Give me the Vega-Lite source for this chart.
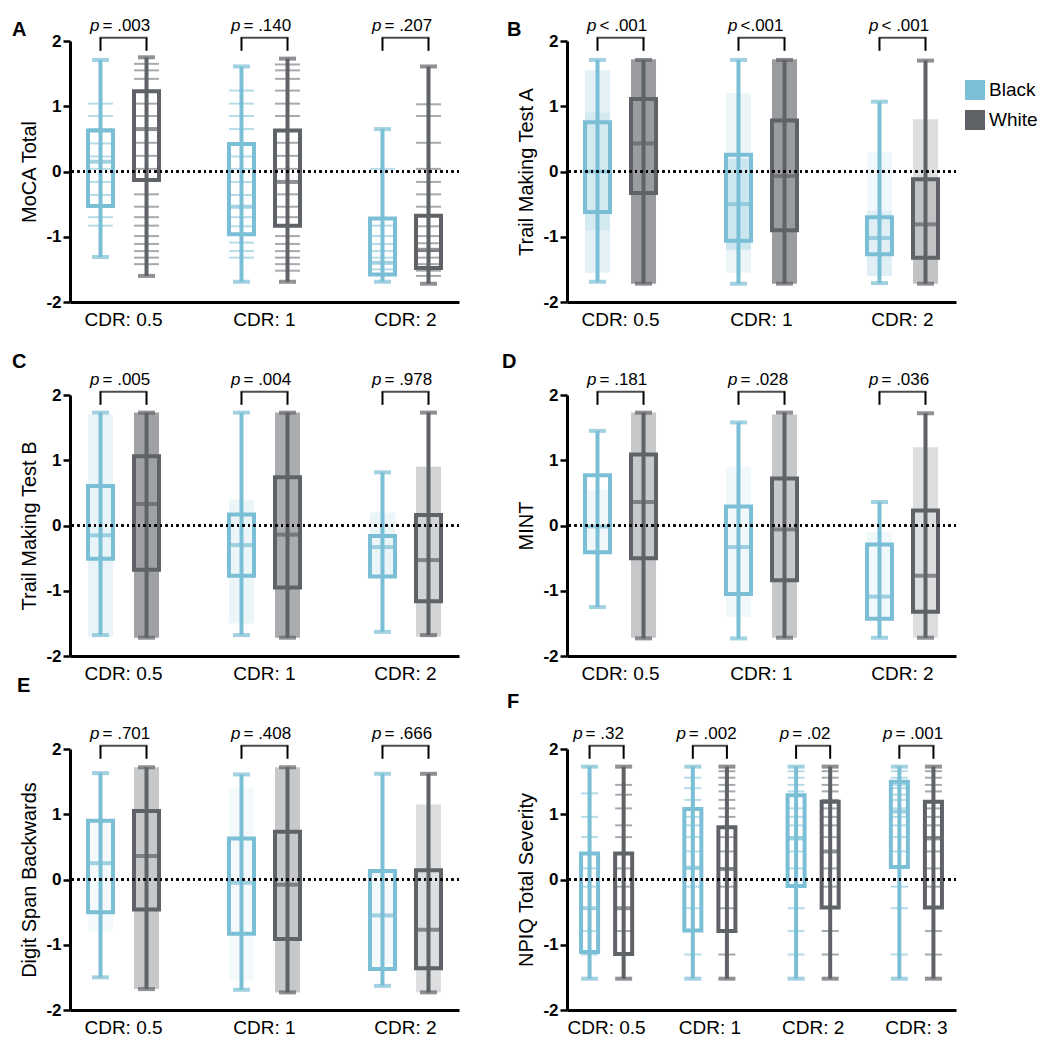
{
"$schema": "https://vega.github.io/schema/vega-lite/v6.json",
"background": "white",
"padding": {"left": 12, "top": 17, "right": 2, "bottom": 2},
"columns": 2,
"spacing": {"row": 93, "column": 108},
"bounds": "flush",
"resolve": {"scale": {"xOffset": "independent"}},
"datasets": {
"box": [
{"panel":"A","cdr":"CDR: 0.5","race":"Black","min":-1.31,"q1":-0.53,"median":0.15,"q3":0.63,"max":1.71},
{"panel":"A","cdr":"CDR: 0.5","race":"White","min":-1.60,"q1":-0.13,"median":0.65,"q3":1.23,"max":1.75},
{"panel":"A","cdr":"CDR: 1","race":"Black","min":-1.69,"q1":-0.96,"median":-0.54,"q3":0.42,"max":1.61},
{"panel":"A","cdr":"CDR: 1","race":"White","min":-1.69,"q1":-0.83,"median":-0.16,"q3":0.63,"max":1.73},
{"panel":"A","cdr":"CDR: 2","race":"Black","min":-1.69,"q1":-1.58,"median":-1.40,"q3":-0.72,"max":0.65},
{"panel":"A","cdr":"CDR: 2","race":"White","min":-1.72,"q1":-1.48,"median":-1.20,"q3":-0.68,"max":1.61},
{"panel":"B","cdr":"CDR: 0.5","race":"Black","min":-1.69,"q1":-0.62,"median":0.0,"q3":0.755,"max":1.71},
{"panel":"B","cdr":"CDR: 0.5","race":"White","min":-1.72,"q1":-0.33,"median":0.43,"q3":1.11,"max":1.71},
{"panel":"B","cdr":"CDR: 1","race":"Black","min":-1.72,"q1":-1.06,"median":-0.50,"q3":0.255,"max":1.71},
{"panel":"B","cdr":"CDR: 1","race":"White","min":-1.72,"q1":-0.90,"median":-0.07,"q3":0.78,"max":1.71},
{"panel":"B","cdr":"CDR: 2","race":"Black","min":-1.71,"q1":-1.27,"median":-1.02,"q3":-0.70,"max":1.07},
{"panel":"B","cdr":"CDR: 2","race":"White","min":-1.72,"q1":-1.32,"median":-0.81,"q3":-0.12,"max":1.70},
{"panel":"C","cdr":"CDR: 0.5","race":"Black","min":-1.68,"q1":-0.51,"median":-0.15,"q3":0.605,"max":1.73},
{"panel":"C","cdr":"CDR: 0.5","race":"White","min":-1.72,"q1":-0.68,"median":0.33,"q3":1.06,"max":1.73},
{"panel":"C","cdr":"CDR: 1","race":"Black","min":-1.68,"q1":-0.77,"median":-0.30,"q3":0.17,"max":1.73},
{"panel":"C","cdr":"CDR: 1","race":"White","min":-1.72,"q1":-0.95,"median":-0.14,"q3":0.74,"max":1.73},
{"panel":"C","cdr":"CDR: 2","race":"Black","min":-1.63,"q1":-0.78,"median":-0.33,"q3":-0.16,"max":0.815},
{"panel":"C","cdr":"CDR: 2","race":"White","min":-1.68,"q1":-1.16,"median":-0.53,"q3":0.16,"max":1.73},
{"panel":"D","cdr":"CDR: 0.5","race":"Black","min":-1.25,"q1":-0.41,"median":-0.015,"q3":0.77,"max":1.45},
{"panel":"D","cdr":"CDR: 0.5","race":"White","min":-1.73,"q1":-0.50,"median":0.36,"q3":1.09,"max":1.73},
{"panel":"D","cdr":"CDR: 1","race":"Black","min":-1.73,"q1":-1.05,"median":-0.33,"q3":0.29,"max":1.58},
{"panel":"D","cdr":"CDR: 1","race":"White","min":-1.72,"q1":-0.84,"median":-0.06,"q3":0.72,"max":1.73},
{"panel":"D","cdr":"CDR: 2","race":"Black","min":-1.72,"q1":-1.43,"median":-1.09,"q3":-0.29,"max":0.36},
{"panel":"D","cdr":"CDR: 2","race":"White","min":-1.72,"q1":-1.32,"median":-0.77,"q3":0.23,"max":1.72},
{"panel":"E","cdr":"CDR: 0.5","race":"Black","min":-1.50,"q1":-0.50,"median":0.25,"q3":0.90,"max":1.63},
{"panel":"E","cdr":"CDR: 0.5","race":"White","min":-1.68,"q1":-0.46,"median":0.36,"q3":1.05,"max":1.72},
{"panel":"E","cdr":"CDR: 1","race":"Black","min":-1.69,"q1":-0.83,"median":-0.05,"q3":0.63,"max":1.61},
{"panel":"E","cdr":"CDR: 1","race":"White","min":-1.73,"q1":-0.91,"median":-0.08,"q3":0.73,"max":1.72},
{"panel":"E","cdr":"CDR: 2","race":"Black","min":-1.63,"q1":-1.37,"median":-0.55,"q3":0.13,"max":1.62},
{"panel":"E","cdr":"CDR: 2","race":"White","min":-1.73,"q1":-1.36,"median":-0.77,"q3":0.14,"max":1.62},
{"panel":"F","cdr":"CDR: 0.5","race":"Black","min":-1.52,"q1":-1.11,"median":-0.44,"q3":0.40,"max":1.73},
{"panel":"F","cdr":"CDR: 0.5","race":"White","min":-1.52,"q1":-1.14,"median":-0.44,"q3":0.40,"max":1.73},
{"panel":"F","cdr":"CDR: 1","race":"Black","min":-1.52,"q1":-0.78,"median":0.18,"q3":1.08,"max":1.73},
{"panel":"F","cdr":"CDR: 1","race":"White","min":-1.52,"q1":-0.79,"median":0.16,"q3":0.80,"max":1.73},
{"panel":"F","cdr":"CDR: 2","race":"Black","min":-1.52,"q1":-0.10,"median":0.63,"q3":1.29,"max":1.73},
{"panel":"F","cdr":"CDR: 2","race":"White","min":-1.52,"q1":-0.43,"median":0.43,"q3":1.19,"max":1.73},
{"panel":"F","cdr":"CDR: 3","race":"Black","min":-1.52,"q1":0.19,"median":1.04,"q3":1.50,"max":1.73},
{"panel":"F","cdr":"CDR: 3","race":"White","min":-1.52,"q1":-0.43,"median":0.63,"q3":1.19,"max":1.73}
],
"pv": [
{"panel":"A","cdr":"CDR: 0.5","ptext":"\u00a0= .003"},
{"panel":"A","cdr":"CDR: 1","ptext":"\u00a0= .140"},
{"panel":"A","cdr":"CDR: 2","ptext":"\u00a0= .207"},
{"panel":"B","cdr":"CDR: 0.5","ptext":"\u00a0< .001"},
{"panel":"B","cdr":"CDR: 1","ptext":"\u00a0<.001"},
{"panel":"B","cdr":"CDR: 2","ptext":"\u00a0< .001"},
{"panel":"C","cdr":"CDR: 0.5","ptext":"\u00a0= .005"},
{"panel":"C","cdr":"CDR: 1","ptext":"\u00a0= .004"},
{"panel":"C","cdr":"CDR: 2","ptext":"\u00a0= .978"},
{"panel":"D","cdr":"CDR: 0.5","ptext":"\u00a0= .181"},
{"panel":"D","cdr":"CDR: 1","ptext":"\u00a0= .028"},
{"panel":"D","cdr":"CDR: 2","ptext":"\u00a0= .036"},
{"panel":"E","cdr":"CDR: 0.5","ptext":"\u00a0= .701"},
{"panel":"E","cdr":"CDR: 1","ptext":"\u00a0= .408"},
{"panel":"E","cdr":"CDR: 2","ptext":"\u00a0= .666"},
{"panel":"F","cdr":"CDR: 0.5","ptext":"\u00a0= .32"},
{"panel":"F","cdr":"CDR: 1","ptext":"\u00a0= .002"},
{"panel":"F","cdr":"CDR: 2","ptext":"\u00a0= .02"},
{"panel":"F","cdr":"CDR: 3","ptext":"\u00a0= .001"}
],
"cloud": [
{"panel":"B","cdr":"CDR: 0.5","race":"Black","lo":-1.55,"hi":1.55,"dens":0.3},
{"panel":"B","cdr":"CDR: 0.5","race":"Black","lo":-0.9,"hi":0.9,"dens":0.2},
{"panel":"B","cdr":"CDR: 0.5","race":"White","lo":-1.72,"hi":1.72,"dens":0.9},
{"panel":"B","cdr":"CDR: 1","race":"Black","lo":-1.55,"hi":1.2,"dens":0.2},
{"panel":"B","cdr":"CDR: 1","race":"Black","lo":-1.2,"hi":0.2,"dens":0.4},
{"panel":"B","cdr":"CDR: 1","race":"White","lo":-1.72,"hi":1.72,"dens":0.9},
{"panel":"B","cdr":"CDR: 2","race":"Black","lo":-1.6,"hi":-0.6,"dens":0.35},
{"panel":"B","cdr":"CDR: 2","race":"Black","lo":-0.6,"hi":0.3,"dens":0.15},
{"panel":"B","cdr":"CDR: 2","race":"White","lo":-1.72,"hi":-0.1,"dens":0.55},
{"panel":"B","cdr":"CDR: 2","race":"White","lo":-0.1,"hi":0.8,"dens":0.3},
{"panel":"C","cdr":"CDR: 0.5","race":"Black","lo":-1.7,"hi":1.7,"dens":0.25},
{"panel":"C","cdr":"CDR: 0.5","race":"White","lo":-1.72,"hi":1.73,"dens":0.85},
{"panel":"C","cdr":"CDR: 1","race":"Black","lo":-1.5,"hi":0.4,"dens":0.2},
{"panel":"C","cdr":"CDR: 1","race":"White","lo":-1.72,"hi":1.73,"dens":0.75},
{"panel":"C","cdr":"CDR: 2","race":"Black","lo":-0.8,"hi":0.2,"dens":0.2},
{"panel":"C","cdr":"CDR: 2","race":"White","lo":-1.7,"hi":0.9,"dens":0.4},
{"panel":"D","cdr":"CDR: 0.5","race":"Black","lo":-0.45,"hi":0.55,"dens":0.15},
{"panel":"D","cdr":"CDR: 0.5","race":"White","lo":-1.72,"hi":1.73,"dens":0.5},
{"panel":"D","cdr":"CDR: 1","race":"Black","lo":-1.4,"hi":0.9,"dens":0.15},
{"panel":"D","cdr":"CDR: 1","race":"White","lo":-1.72,"hi":1.7,"dens":0.5},
{"panel":"D","cdr":"CDR: 2","race":"Black","lo":-1.45,"hi":-0.1,"dens":0.15},
{"panel":"D","cdr":"CDR: 2","race":"White","lo":-1.72,"hi":1.2,"dens":0.3},
{"panel":"E","cdr":"CDR: 0.5","race":"Black","lo":-0.8,"hi":0.9,"dens":0.12},
{"panel":"E","cdr":"CDR: 0.5","race":"White","lo":-1.68,"hi":1.72,"dens":0.5},
{"panel":"E","cdr":"CDR: 1","race":"Black","lo":-1.55,"hi":1.4,"dens":0.12},
{"panel":"E","cdr":"CDR: 1","race":"White","lo":-1.73,"hi":1.72,"dens":0.5},
{"panel":"E","cdr":"CDR: 2","race":"Black","lo":-1.3,"hi":0.1,"dens":0.12},
{"panel":"E","cdr":"CDR: 2","race":"White","lo":-1.73,"hi":1.15,"dens":0.3}
],
"lv": [
{"panel":"A","cdr":"CDR: 0.5","race":"Black","v":1.04},{"panel":"A","cdr":"CDR: 0.5","race":"Black","v":0.85},{"panel":"A","cdr":"CDR: 0.5","race":"Black","v":0.65},{"panel":"A","cdr":"CDR: 0.5","race":"Black","v":0.43},{"panel":"A","cdr":"CDR: 0.5","race":"Black","v":0.23},{"panel":"A","cdr":"CDR: 0.5","race":"Black","v":0.04},{"panel":"A","cdr":"CDR: 0.5","race":"Black","v":-0.16},{"panel":"A","cdr":"CDR: 0.5","race":"Black","v":-0.36},{"panel":"A","cdr":"CDR: 0.5","race":"Black","v":-0.70},{"panel":"A","cdr":"CDR: 0.5","race":"Black","v":-0.83},
{"panel":"A","cdr":"CDR: 0.5","race":"White","v":1.65},{"panel":"A","cdr":"CDR: 0.5","race":"White","v":1.55},{"panel":"A","cdr":"CDR: 0.5","race":"White","v":1.42},{"panel":"A","cdr":"CDR: 0.5","race":"White","v":1.04},{"panel":"A","cdr":"CDR: 0.5","race":"White","v":0.85},{"panel":"A","cdr":"CDR: 0.5","race":"White","v":0.44},{"panel":"A","cdr":"CDR: 0.5","race":"White","v":0.24},{"panel":"A","cdr":"CDR: 0.5","race":"White","v":0.04},{"panel":"A","cdr":"CDR: 0.5","race":"White","v":-0.35},{"panel":"A","cdr":"CDR: 0.5","race":"White","v":-0.54},{"panel":"A","cdr":"CDR: 0.5","race":"White","v":-0.70},{"panel":"A","cdr":"CDR: 0.5","race":"White","v":-0.83},{"panel":"A","cdr":"CDR: 0.5","race":"White","v":-0.99},{"panel":"A","cdr":"CDR: 0.5","race":"White","v":-1.11},{"panel":"A","cdr":"CDR: 0.5","race":"White","v":-1.22},{"panel":"A","cdr":"CDR: 0.5","race":"White","v":-1.32},{"panel":"A","cdr":"CDR: 0.5","race":"White","v":-1.42},
{"panel":"A","cdr":"CDR: 1","race":"Black","v":1.24},{"panel":"A","cdr":"CDR: 1","race":"Black","v":1.04},{"panel":"A","cdr":"CDR: 1","race":"Black","v":0.85},{"panel":"A","cdr":"CDR: 1","race":"Black","v":0.65},{"panel":"A","cdr":"CDR: 1","race":"Black","v":0.23},{"panel":"A","cdr":"CDR: 1","race":"Black","v":0.04},{"panel":"A","cdr":"CDR: 1","race":"Black","v":-0.16},{"panel":"A","cdr":"CDR: 1","race":"Black","v":-0.36},{"panel":"A","cdr":"CDR: 1","race":"Black","v":-0.70},{"panel":"A","cdr":"CDR: 1","race":"Black","v":-0.84},{"panel":"A","cdr":"CDR: 1","race":"Black","v":-1.09},{"panel":"A","cdr":"CDR: 1","race":"Black","v":-1.22},{"panel":"A","cdr":"CDR: 1","race":"Black","v":-1.32},
{"panel":"A","cdr":"CDR: 1","race":"White","v":1.64},{"panel":"A","cdr":"CDR: 1","race":"White","v":1.55},{"panel":"A","cdr":"CDR: 1","race":"White","v":1.42},{"panel":"A","cdr":"CDR: 1","race":"White","v":1.24},{"panel":"A","cdr":"CDR: 1","race":"White","v":1.04},{"panel":"A","cdr":"CDR: 1","race":"White","v":0.85},{"panel":"A","cdr":"CDR: 1","race":"White","v":0.44},{"panel":"A","cdr":"CDR: 1","race":"White","v":0.24},{"panel":"A","cdr":"CDR: 1","race":"White","v":0.04},{"panel":"A","cdr":"CDR: 1","race":"White","v":-0.35},{"panel":"A","cdr":"CDR: 1","race":"White","v":-0.54},{"panel":"A","cdr":"CDR: 1","race":"White","v":-0.70},{"panel":"A","cdr":"CDR: 1","race":"White","v":-0.99},{"panel":"A","cdr":"CDR: 1","race":"White","v":-1.11},{"panel":"A","cdr":"CDR: 1","race":"White","v":-1.22},{"panel":"A","cdr":"CDR: 1","race":"White","v":-1.32},{"panel":"A","cdr":"CDR: 1","race":"White","v":-1.42},{"panel":"A","cdr":"CDR: 1","race":"White","v":-1.52},
{"panel":"A","cdr":"CDR: 2","race":"Black","v":0.04},{"panel":"A","cdr":"CDR: 2","race":"Black","v":-0.83},{"panel":"A","cdr":"CDR: 2","race":"Black","v":-0.99},{"panel":"A","cdr":"CDR: 2","race":"Black","v":-1.11},{"panel":"A","cdr":"CDR: 2","race":"Black","v":-1.22},{"panel":"A","cdr":"CDR: 2","race":"Black","v":-1.32},{"panel":"A","cdr":"CDR: 2","race":"Black","v":-1.50},
{"panel":"A","cdr":"CDR: 2","race":"White","v":1.03},{"panel":"A","cdr":"CDR: 2","race":"White","v":0.85},{"panel":"A","cdr":"CDR: 2","race":"White","v":0.44},{"panel":"A","cdr":"CDR: 2","race":"White","v":0.04},{"panel":"A","cdr":"CDR: 2","race":"White","v":-0.16},{"panel":"A","cdr":"CDR: 2","race":"White","v":-0.35},{"panel":"A","cdr":"CDR: 2","race":"White","v":-0.54},{"panel":"A","cdr":"CDR: 2","race":"White","v":-0.84},{"panel":"A","cdr":"CDR: 2","race":"White","v":-0.99},{"panel":"A","cdr":"CDR: 2","race":"White","v":-1.10},{"panel":"A","cdr":"CDR: 2","race":"White","v":-1.22},{"panel":"A","cdr":"CDR: 2","race":"White","v":-1.32},{"panel":"A","cdr":"CDR: 2","race":"White","v":-1.42},{"panel":"A","cdr":"CDR: 2","race":"White","v":-1.52},{"panel":"A","cdr":"CDR: 2","race":"White","v":-1.60},
{"panel":"F","cdr":"CDR: 0.5","race":"Black","v":1.32},{"panel":"F","cdr":"CDR: 0.5","race":"Black","v":0.96},{"panel":"F","cdr":"CDR: 0.5","race":"Black","v":0.65},{"panel":"F","cdr":"CDR: 0.5","race":"Black","v":0.17},{"panel":"F","cdr":"CDR: 0.5","race":"Black","v":-0.11},{"panel":"F","cdr":"CDR: 0.5","race":"Black","v":-0.79},{"panel":"F","cdr":"CDR: 0.5","race":"Black","v":-1.15},
{"panel":"F","cdr":"CDR: 0.5","race":"White","v":1.45},{"panel":"F","cdr":"CDR: 0.5","race":"White","v":1.30},{"panel":"F","cdr":"CDR: 0.5","race":"White","v":1.09},{"panel":"F","cdr":"CDR: 0.5","race":"White","v":0.83},{"panel":"F","cdr":"CDR: 0.5","race":"White","v":0.65},{"panel":"F","cdr":"CDR: 0.5","race":"White","v":0.17},{"panel":"F","cdr":"CDR: 0.5","race":"White","v":-0.11},{"panel":"F","cdr":"CDR: 0.5","race":"White","v":-0.79},{"panel":"F","cdr":"CDR: 0.5","race":"White","v":-1.15},
{"panel":"F","cdr":"CDR: 1","race":"Black","v":1.56},{"panel":"F","cdr":"CDR: 1","race":"Black","v":1.40},{"panel":"F","cdr":"CDR: 1","race":"Black","v":1.22},{"panel":"F","cdr":"CDR: 1","race":"Black","v":0.96},{"panel":"F","cdr":"CDR: 1","race":"Black","v":0.83},{"panel":"F","cdr":"CDR: 1","race":"Black","v":0.65},{"panel":"F","cdr":"CDR: 1","race":"Black","v":0.43},{"panel":"F","cdr":"CDR: 1","race":"Black","v":0.17},{"panel":"F","cdr":"CDR: 1","race":"Black","v":-0.11},{"panel":"F","cdr":"CDR: 1","race":"Black","v":-0.44},{"panel":"F","cdr":"CDR: 1","race":"Black","v":-1.15},
{"panel":"F","cdr":"CDR: 1","race":"White","v":1.66},{"panel":"F","cdr":"CDR: 1","race":"White","v":1.56},{"panel":"F","cdr":"CDR: 1","race":"White","v":1.45},{"panel":"F","cdr":"CDR: 1","race":"White","v":1.35},{"panel":"F","cdr":"CDR: 1","race":"White","v":1.22},{"panel":"F","cdr":"CDR: 1","race":"White","v":1.09},{"panel":"F","cdr":"CDR: 1","race":"White","v":0.96},{"panel":"F","cdr":"CDR: 1","race":"White","v":0.65},{"panel":"F","cdr":"CDR: 1","race":"White","v":0.43},{"panel":"F","cdr":"CDR: 1","race":"White","v":0.17},{"panel":"F","cdr":"CDR: 1","race":"White","v":-0.11},{"panel":"F","cdr":"CDR: 1","race":"White","v":-0.44},{"panel":"F","cdr":"CDR: 1","race":"White","v":-1.15},
{"panel":"F","cdr":"CDR: 2","race":"Black","v":1.66},{"panel":"F","cdr":"CDR: 2","race":"Black","v":1.56},{"panel":"F","cdr":"CDR: 2","race":"Black","v":1.45},{"panel":"F","cdr":"CDR: 2","race":"Black","v":1.35},{"panel":"F","cdr":"CDR: 2","race":"Black","v":1.09},{"panel":"F","cdr":"CDR: 2","race":"Black","v":0.96},{"panel":"F","cdr":"CDR: 2","race":"Black","v":0.83},{"panel":"F","cdr":"CDR: 2","race":"Black","v":0.65},{"panel":"F","cdr":"CDR: 2","race":"Black","v":0.43},{"panel":"F","cdr":"CDR: 2","race":"Black","v":0.17},{"panel":"F","cdr":"CDR: 2","race":"Black","v":-0.44},{"panel":"F","cdr":"CDR: 2","race":"Black","v":-0.79},{"panel":"F","cdr":"CDR: 2","race":"Black","v":-1.15},
{"panel":"F","cdr":"CDR: 2","race":"White","v":1.66},{"panel":"F","cdr":"CDR: 2","race":"White","v":1.56},{"panel":"F","cdr":"CDR: 2","race":"White","v":1.45},{"panel":"F","cdr":"CDR: 2","race":"White","v":1.35},{"panel":"F","cdr":"CDR: 2","race":"White","v":1.22},{"panel":"F","cdr":"CDR: 2","race":"White","v":1.09},{"panel":"F","cdr":"CDR: 2","race":"White","v":0.96},{"panel":"F","cdr":"CDR: 2","race":"White","v":0.83},{"panel":"F","cdr":"CDR: 2","race":"White","v":0.65},{"panel":"F","cdr":"CDR: 2","race":"White","v":0.17},{"panel":"F","cdr":"CDR: 2","race":"White","v":-0.11},{"panel":"F","cdr":"CDR: 2","race":"White","v":-0.79},{"panel":"F","cdr":"CDR: 2","race":"White","v":-1.15},
{"panel":"F","cdr":"CDR: 3","race":"Black","v":1.66},{"panel":"F","cdr":"CDR: 3","race":"Black","v":1.56},{"panel":"F","cdr":"CDR: 3","race":"Black","v":1.45},{"panel":"F","cdr":"CDR: 3","race":"Black","v":1.40},{"panel":"F","cdr":"CDR: 3","race":"Black","v":1.30},{"panel":"F","cdr":"CDR: 3","race":"Black","v":1.22},{"panel":"F","cdr":"CDR: 3","race":"Black","v":1.09},{"panel":"F","cdr":"CDR: 3","race":"Black","v":0.96},{"panel":"F","cdr":"CDR: 3","race":"Black","v":0.83},{"panel":"F","cdr":"CDR: 3","race":"Black","v":0.65},{"panel":"F","cdr":"CDR: 3","race":"Black","v":0.43},{"panel":"F","cdr":"CDR: 3","race":"Black","v":-0.11},{"panel":"F","cdr":"CDR: 3","race":"Black","v":-0.44},{"panel":"F","cdr":"CDR: 3","race":"Black","v":-1.15},
{"panel":"F","cdr":"CDR: 3","race":"White","v":1.66},{"panel":"F","cdr":"CDR: 3","race":"White","v":1.56},{"panel":"F","cdr":"CDR: 3","race":"White","v":1.45},{"panel":"F","cdr":"CDR: 3","race":"White","v":1.35},{"panel":"F","cdr":"CDR: 3","race":"White","v":1.09},{"panel":"F","cdr":"CDR: 3","race":"White","v":0.96},{"panel":"F","cdr":"CDR: 3","race":"White","v":0.83},{"panel":"F","cdr":"CDR: 3","race":"White","v":0.65},{"panel":"F","cdr":"CDR: 3","race":"White","v":0.43},{"panel":"F","cdr":"CDR: 3","race":"White","v":0.17},{"panel":"F","cdr":"CDR: 3","race":"White","v":-0.11},{"panel":"F","cdr":"CDR: 3","race":"White","v":-0.79},{"panel":"F","cdr":"CDR: 3","race":"White","v":-1.15}
]
},
"concat": [
{"title": {"text": "A", "dx": -58, "offset": -23}, "width": 389, "height": 261,
 "data": {"name": "box"}, "transform": [{"filter": "datum.panel == 'A'"}],
 "layer": [
  {"data": {"name": "lv"}, "transform": [{"filter": "datum.panel == 'A'"}], "mark": {"type": "tick", "size": 25, "thickness": 2, "opacity": 0.55}, "encoding": {"x": {"field": "cdr", "type": "nominal", "sort": ["CDR: 0.5","CDR: 1","CDR: 2"], "scale": {"paddingInner": 0.241, "paddingOuter": 0}, "title": null}, "xOffset": {"field": "race", "type": "nominal", "sort": ["Black","White"], "scale": {"paddingInner": 0.4565, "paddingOuter": 0.391}}, "y": {"field": "v", "type": "quantitative", "scale": {"domain": [-2, 2], "nice": false}, "axis": {"values": [-2,-1,0,1,2], "labelExpr": "'' + datum.value"}, "title": "MoCA Total"}, "color": {"field": "race", "type": "nominal", "scale": {"domain": ["Black","White"], "range": ["#7bbfd6","#5f6267"]}, "legend": {"orient": "right", "title": null, "offset": -31, "padding": 39, "symbolType": "square", "symbolSize": 400, "symbolOpacity": 1, "labelFontSize": 19, "labelColor": "black", "rowPadding": 10, "labelOffset": 4, "encode": {"symbols": {"update": {"fill": {"scale": "color", "field": "value"}, "strokeWidth": {"value": 0}, "opacity": {"value": 1}, "fillOpacity": {"value": 1}}}}}}}},
  {"mark": {"type": "rule", "strokeWidth": 4}, "encoding": {"x": {"field": "cdr", "type": "nominal", "sort": ["CDR: 0.5","CDR: 1","CDR: 2"], "title": null}, "xOffset": {"field": "race", "type": "nominal", "sort": ["Black","White"]}, "y": {"field": "min", "type": "quantitative", "title": "MoCA Total"}, "y2": {"field": "max"}, "color": {"field": "race", "type": "nominal"}}},
  {"mark": {"type": "tick", "size": 17, "thickness": 4}, "encoding": {"x": {"field": "cdr", "type": "nominal", "sort": ["CDR: 0.5","CDR: 1","CDR: 2"], "title": null}, "xOffset": {"field": "race", "type": "nominal", "sort": ["Black","White"]}, "y": {"field": "min", "type": "quantitative", "title": "MoCA Total"}, "color": {"field": "race", "type": "nominal"}}},
  {"mark": {"type": "tick", "size": 17, "thickness": 4}, "encoding": {"x": {"field": "cdr", "type": "nominal", "sort": ["CDR: 0.5","CDR: 1","CDR: 2"], "title": null}, "xOffset": {"field": "race", "type": "nominal", "sort": ["Black","White"]}, "y": {"field": "max", "type": "quantitative", "title": "MoCA Total"}, "color": {"field": "race", "type": "nominal"}}},
  {"mark": {"type": "bar", "filled": false, "strokeWidth": 4}, "encoding": {"x": {"field": "cdr", "type": "nominal", "sort": ["CDR: 0.5","CDR: 1","CDR: 2"], "title": null}, "xOffset": {"field": "race", "type": "nominal", "sort": ["Black","White"]}, "y": {"field": "q1", "type": "quantitative", "title": "MoCA Total"}, "y2": {"field": "q3"}, "color": {"field": "race", "type": "nominal"}}},
  {"mark": {"type": "tick", "size": 25, "thickness": 4}, "encoding": {"x": {"field": "cdr", "type": "nominal", "sort": ["CDR: 0.5","CDR: 1","CDR: 2"], "title": null}, "xOffset": {"field": "race", "type": "nominal", "sort": ["Black","White"]}, "y": {"field": "median", "type": "quantitative", "title": "MoCA Total"}, "color": {"field": "race", "type": "nominal"}}},
  {"mark": {"type": "rule", "color": "black", "strokeWidth": 2, "strokeDash": [2, 3.5]}, "encoding": {"y": {"datum": 0, "title": "MoCA Total"}}},
  {"mark": {"type": "rule", "color": "black", "strokeWidth": 2}, "encoding": {"x": {"field": "cdr", "type": "nominal", "sort": ["CDR: 0.5","CDR: 1","CDR: 2"], "title": null}, "xOffset": {"field": "race", "type": "nominal", "sort": ["Black","White"]}, "y": {"datum": 1.85, "title": "MoCA Total"}, "y2": {"datum": 2.05}}},
  {"data": {"name": "pv"}, "transform": [{"filter": "datum.panel == 'A'"}], "mark": {"type": "tick", "size": 48, "thickness": 2, "color": "black"}, "encoding": {"x": {"field": "cdr", "type": "nominal", "sort": ["CDR: 0.5","CDR: 1","CDR: 2"], "title": null}, "y": {"datum": 2.05, "title": "MoCA Total"}}},
  {"data": {"name": "pv"}, "transform": [{"filter": "datum.panel == 'A'"}], "mark": {"type": "text", "text": "p", "fontStyle": "italic", "align": "right", "baseline": "alphabetic", "dx": -24, "fontSize": 17}, "encoding": {"x": {"field": "cdr", "type": "nominal", "sort": ["CDR: 0.5","CDR: 1","CDR: 2"], "title": null}, "y": {"datum": 2.15, "title": "MoCA Total"}}},
  {"data": {"name": "pv"}, "transform": [{"filter": "datum.panel == 'A'"}], "mark": {"type": "text", "align": "left", "baseline": "alphabetic", "dx": -21, "fontSize": 17}, "encoding": {"x": {"field": "cdr", "type": "nominal", "sort": ["CDR: 0.5","CDR: 1","CDR: 2"], "title": null}, "y": {"datum": 2.15, "title": "MoCA Total"}, "text": {"field": "ptext"}}}
 ]},
{"title": {"text": "B", "dx": -60, "offset": -23}, "width": 389, "height": 261,
 "data": {"name": "box"}, "transform": [{"filter": "datum.panel == 'B'"}],
 "layer": [
  {"data": {"name": "cloud"}, "transform": [{"filter": "datum.panel == 'B'"}], "mark": {"type": "bar"}, "encoding": {"x": {"field": "cdr", "type": "nominal", "sort": ["CDR: 0.5","CDR: 1","CDR: 2"], "scale": {"paddingInner": 0.241, "paddingOuter": 0}, "title": null}, "xOffset": {"field": "race", "type": "nominal", "sort": ["Black","White"], "scale": {"paddingInner": 0.4565, "paddingOuter": 0.391}}, "y": {"field": "lo", "type": "quantitative", "scale": {"domain": [-2, 2], "nice": false}, "axis": {"values": [-2,-1,0,1,2], "labelExpr": "'' + datum.value"}, "title": "Trail Making Test A"}, "y2": {"field": "hi"}, "color": {"field": "race", "type": "nominal"}, "opacity": {"field": "dens", "type": "quantitative", "scale": {"domain": [0, 1], "range": [0, 0.7]}, "legend": null}}},
  {"mark": {"type": "rule", "strokeWidth": 4}, "encoding": {"x": {"field": "cdr", "type": "nominal", "sort": ["CDR: 0.5","CDR: 1","CDR: 2"], "title": null}, "xOffset": {"field": "race", "type": "nominal", "sort": ["Black","White"]}, "y": {"field": "min", "type": "quantitative", "title": "Trail Making Test A"}, "y2": {"field": "max"}, "color": {"field": "race", "type": "nominal"}}},
  {"mark": {"type": "tick", "size": 17, "thickness": 4}, "encoding": {"x": {"field": "cdr", "type": "nominal", "sort": ["CDR: 0.5","CDR: 1","CDR: 2"], "title": null}, "xOffset": {"field": "race", "type": "nominal", "sort": ["Black","White"]}, "y": {"field": "min", "type": "quantitative", "title": "Trail Making Test A"}, "color": {"field": "race", "type": "nominal"}}},
  {"mark": {"type": "tick", "size": 17, "thickness": 4}, "encoding": {"x": {"field": "cdr", "type": "nominal", "sort": ["CDR: 0.5","CDR: 1","CDR: 2"], "title": null}, "xOffset": {"field": "race", "type": "nominal", "sort": ["Black","White"]}, "y": {"field": "max", "type": "quantitative", "title": "Trail Making Test A"}, "color": {"field": "race", "type": "nominal"}}},
  {"mark": {"type": "bar", "filled": false, "strokeWidth": 4}, "encoding": {"x": {"field": "cdr", "type": "nominal", "sort": ["CDR: 0.5","CDR: 1","CDR: 2"], "title": null}, "xOffset": {"field": "race", "type": "nominal", "sort": ["Black","White"]}, "y": {"field": "q1", "type": "quantitative", "title": "Trail Making Test A"}, "y2": {"field": "q3"}, "color": {"field": "race", "type": "nominal"}}},
  {"mark": {"type": "tick", "size": 25, "thickness": 4}, "encoding": {"x": {"field": "cdr", "type": "nominal", "sort": ["CDR: 0.5","CDR: 1","CDR: 2"], "title": null}, "xOffset": {"field": "race", "type": "nominal", "sort": ["Black","White"]}, "y": {"field": "median", "type": "quantitative", "title": "Trail Making Test A"}, "color": {"field": "race", "type": "nominal"}}},
  {"mark": {"type": "rule", "color": "black", "strokeWidth": 2, "strokeDash": [2, 3.5]}, "encoding": {"y": {"datum": 0, "title": "Trail Making Test A"}}},
  {"mark": {"type": "rule", "color": "black", "strokeWidth": 2}, "encoding": {"x": {"field": "cdr", "type": "nominal", "sort": ["CDR: 0.5","CDR: 1","CDR: 2"], "title": null}, "xOffset": {"field": "race", "type": "nominal", "sort": ["Black","White"]}, "y": {"datum": 1.85, "title": "Trail Making Test A"}, "y2": {"datum": 2.05}}},
  {"data": {"name": "pv"}, "transform": [{"filter": "datum.panel == 'B'"}], "mark": {"type": "tick", "size": 48, "thickness": 2, "color": "black"}, "encoding": {"x": {"field": "cdr", "type": "nominal", "sort": ["CDR: 0.5","CDR: 1","CDR: 2"], "title": null}, "y": {"datum": 2.05, "title": "Trail Making Test A"}}},
  {"data": {"name": "pv"}, "transform": [{"filter": "datum.panel == 'B'"}], "mark": {"type": "text", "text": "p", "fontStyle": "italic", "align": "right", "baseline": "alphabetic", "dx": -24, "fontSize": 17}, "encoding": {"x": {"field": "cdr", "type": "nominal", "sort": ["CDR: 0.5","CDR: 1","CDR: 2"], "title": null}, "y": {"datum": 2.15, "title": "Trail Making Test A"}}},
  {"data": {"name": "pv"}, "transform": [{"filter": "datum.panel == 'B'"}], "mark": {"type": "text", "align": "left", "baseline": "alphabetic", "dx": -21, "fontSize": 17}, "encoding": {"x": {"field": "cdr", "type": "nominal", "sort": ["CDR: 0.5","CDR: 1","CDR: 2"], "title": null}, "y": {"datum": 2.15, "title": "Trail Making Test A"}, "text": {"field": "ptext"}}}
 ]},
{"title": {"text": "C", "dx": -58, "offset": -1}, "width": 389, "height": 261,
 "data": {"name": "box"}, "transform": [{"filter": "datum.panel == 'C'"}],
 "layer": [
  {"data": {"name": "cloud"}, "transform": [{"filter": "datum.panel == 'C'"}], "mark": {"type": "bar"}, "encoding": {"x": {"field": "cdr", "type": "nominal", "sort": ["CDR: 0.5","CDR: 1","CDR: 2"], "scale": {"paddingInner": 0.241, "paddingOuter": 0}, "title": null}, "xOffset": {"field": "race", "type": "nominal", "sort": ["Black","White"], "scale": {"paddingInner": 0.4565, "paddingOuter": 0.391}}, "y": {"field": "lo", "type": "quantitative", "scale": {"domain": [-2, 2], "nice": false}, "axis": {"values": [-2,-1,0,1,2], "labelExpr": "'' + datum.value"}, "title": "Trail Making Test B"}, "y2": {"field": "hi"}, "color": {"field": "race", "type": "nominal"}, "opacity": {"field": "dens", "type": "quantitative", "scale": {"domain": [0, 1], "range": [0, 0.7]}, "legend": null}}},
  {"mark": {"type": "rule", "strokeWidth": 4}, "encoding": {"x": {"field": "cdr", "type": "nominal", "sort": ["CDR: 0.5","CDR: 1","CDR: 2"], "title": null}, "xOffset": {"field": "race", "type": "nominal", "sort": ["Black","White"]}, "y": {"field": "min", "type": "quantitative", "title": "Trail Making Test B"}, "y2": {"field": "max"}, "color": {"field": "race", "type": "nominal"}}},
  {"mark": {"type": "tick", "size": 17, "thickness": 4}, "encoding": {"x": {"field": "cdr", "type": "nominal", "sort": ["CDR: 0.5","CDR: 1","CDR: 2"], "title": null}, "xOffset": {"field": "race", "type": "nominal", "sort": ["Black","White"]}, "y": {"field": "min", "type": "quantitative", "title": "Trail Making Test B"}, "color": {"field": "race", "type": "nominal"}}},
  {"mark": {"type": "tick", "size": 17, "thickness": 4}, "encoding": {"x": {"field": "cdr", "type": "nominal", "sort": ["CDR: 0.5","CDR: 1","CDR: 2"], "title": null}, "xOffset": {"field": "race", "type": "nominal", "sort": ["Black","White"]}, "y": {"field": "max", "type": "quantitative", "title": "Trail Making Test B"}, "color": {"field": "race", "type": "nominal"}}},
  {"mark": {"type": "bar", "filled": false, "strokeWidth": 4}, "encoding": {"x": {"field": "cdr", "type": "nominal", "sort": ["CDR: 0.5","CDR: 1","CDR: 2"], "title": null}, "xOffset": {"field": "race", "type": "nominal", "sort": ["Black","White"]}, "y": {"field": "q1", "type": "quantitative", "title": "Trail Making Test B"}, "y2": {"field": "q3"}, "color": {"field": "race", "type": "nominal"}}},
  {"mark": {"type": "tick", "size": 25, "thickness": 4}, "encoding": {"x": {"field": "cdr", "type": "nominal", "sort": ["CDR: 0.5","CDR: 1","CDR: 2"], "title": null}, "xOffset": {"field": "race", "type": "nominal", "sort": ["Black","White"]}, "y": {"field": "median", "type": "quantitative", "title": "Trail Making Test B"}, "color": {"field": "race", "type": "nominal"}}},
  {"mark": {"type": "rule", "color": "black", "strokeWidth": 2, "strokeDash": [2, 3.5]}, "encoding": {"y": {"datum": 0, "title": "Trail Making Test B"}}},
  {"mark": {"type": "rule", "color": "black", "strokeWidth": 2}, "encoding": {"x": {"field": "cdr", "type": "nominal", "sort": ["CDR: 0.5","CDR: 1","CDR: 2"], "title": null}, "xOffset": {"field": "race", "type": "nominal", "sort": ["Black","White"]}, "y": {"datum": 1.85, "title": "Trail Making Test B"}, "y2": {"datum": 2.05}}},
  {"data": {"name": "pv"}, "transform": [{"filter": "datum.panel == 'C'"}], "mark": {"type": "tick", "size": 48, "thickness": 2, "color": "black"}, "encoding": {"x": {"field": "cdr", "type": "nominal", "sort": ["CDR: 0.5","CDR: 1","CDR: 2"], "title": null}, "y": {"datum": 2.05, "title": "Trail Making Test B"}}},
  {"data": {"name": "pv"}, "transform": [{"filter": "datum.panel == 'C'"}], "mark": {"type": "text", "text": "p", "fontStyle": "italic", "align": "right", "baseline": "alphabetic", "dx": -24, "fontSize": 17}, "encoding": {"x": {"field": "cdr", "type": "nominal", "sort": ["CDR: 0.5","CDR: 1","CDR: 2"], "title": null}, "y": {"datum": 2.15, "title": "Trail Making Test B"}}},
  {"data": {"name": "pv"}, "transform": [{"filter": "datum.panel == 'C'"}], "mark": {"type": "text", "align": "left", "baseline": "alphabetic", "dx": -21, "fontSize": 17}, "encoding": {"x": {"field": "cdr", "type": "nominal", "sort": ["CDR: 0.5","CDR: 1","CDR: 2"], "title": null}, "y": {"datum": 2.15, "title": "Trail Making Test B"}, "text": {"field": "ptext"}}}
 ]},
{"title": {"text": "D", "dx": -65, "offset": -1}, "width": 389, "height": 261,
 "data": {"name": "box"}, "transform": [{"filter": "datum.panel == 'D'"}],
 "layer": [
  {"data": {"name": "cloud"}, "transform": [{"filter": "datum.panel == 'D'"}], "mark": {"type": "bar"}, "encoding": {"x": {"field": "cdr", "type": "nominal", "sort": ["CDR: 0.5","CDR: 1","CDR: 2"], "scale": {"paddingInner": 0.241, "paddingOuter": 0}, "title": null}, "xOffset": {"field": "race", "type": "nominal", "sort": ["Black","White"], "scale": {"paddingInner": 0.4565, "paddingOuter": 0.391}}, "y": {"field": "lo", "type": "quantitative", "scale": {"domain": [-2, 2], "nice": false}, "axis": {"values": [-2,-1,0,1,2], "labelExpr": "'' + datum.value"}, "title": "MINT"}, "y2": {"field": "hi"}, "color": {"field": "race", "type": "nominal"}, "opacity": {"field": "dens", "type": "quantitative", "scale": {"domain": [0, 1], "range": [0, 0.7]}, "legend": null}}},
  {"mark": {"type": "rule", "strokeWidth": 4}, "encoding": {"x": {"field": "cdr", "type": "nominal", "sort": ["CDR: 0.5","CDR: 1","CDR: 2"], "title": null}, "xOffset": {"field": "race", "type": "nominal", "sort": ["Black","White"]}, "y": {"field": "min", "type": "quantitative", "title": "MINT"}, "y2": {"field": "max"}, "color": {"field": "race", "type": "nominal"}}},
  {"mark": {"type": "tick", "size": 17, "thickness": 4}, "encoding": {"x": {"field": "cdr", "type": "nominal", "sort": ["CDR: 0.5","CDR: 1","CDR: 2"], "title": null}, "xOffset": {"field": "race", "type": "nominal", "sort": ["Black","White"]}, "y": {"field": "min", "type": "quantitative", "title": "MINT"}, "color": {"field": "race", "type": "nominal"}}},
  {"mark": {"type": "tick", "size": 17, "thickness": 4}, "encoding": {"x": {"field": "cdr", "type": "nominal", "sort": ["CDR: 0.5","CDR: 1","CDR: 2"], "title": null}, "xOffset": {"field": "race", "type": "nominal", "sort": ["Black","White"]}, "y": {"field": "max", "type": "quantitative", "title": "MINT"}, "color": {"field": "race", "type": "nominal"}}},
  {"mark": {"type": "bar", "filled": false, "strokeWidth": 4}, "encoding": {"x": {"field": "cdr", "type": "nominal", "sort": ["CDR: 0.5","CDR: 1","CDR: 2"], "title": null}, "xOffset": {"field": "race", "type": "nominal", "sort": ["Black","White"]}, "y": {"field": "q1", "type": "quantitative", "title": "MINT"}, "y2": {"field": "q3"}, "color": {"field": "race", "type": "nominal"}}},
  {"mark": {"type": "tick", "size": 25, "thickness": 4}, "encoding": {"x": {"field": "cdr", "type": "nominal", "sort": ["CDR: 0.5","CDR: 1","CDR: 2"], "title": null}, "xOffset": {"field": "race", "type": "nominal", "sort": ["Black","White"]}, "y": {"field": "median", "type": "quantitative", "title": "MINT"}, "color": {"field": "race", "type": "nominal"}}},
  {"mark": {"type": "rule", "color": "black", "strokeWidth": 2, "strokeDash": [2, 3.5]}, "encoding": {"y": {"datum": 0, "title": "MINT"}}},
  {"mark": {"type": "rule", "color": "black", "strokeWidth": 2}, "encoding": {"x": {"field": "cdr", "type": "nominal", "sort": ["CDR: 0.5","CDR: 1","CDR: 2"], "title": null}, "xOffset": {"field": "race", "type": "nominal", "sort": ["Black","White"]}, "y": {"datum": 1.85, "title": "MINT"}, "y2": {"datum": 2.05}}},
  {"data": {"name": "pv"}, "transform": [{"filter": "datum.panel == 'D'"}], "mark": {"type": "tick", "size": 48, "thickness": 2, "color": "black"}, "encoding": {"x": {"field": "cdr", "type": "nominal", "sort": ["CDR: 0.5","CDR: 1","CDR: 2"], "title": null}, "y": {"datum": 2.05, "title": "MINT"}}},
  {"data": {"name": "pv"}, "transform": [{"filter": "datum.panel == 'D'"}], "mark": {"type": "text", "text": "p", "fontStyle": "italic", "align": "right", "baseline": "alphabetic", "dx": -24, "fontSize": 17}, "encoding": {"x": {"field": "cdr", "type": "nominal", "sort": ["CDR: 0.5","CDR: 1","CDR: 2"], "title": null}, "y": {"datum": 2.15, "title": "MINT"}}},
  {"data": {"name": "pv"}, "transform": [{"filter": "datum.panel == 'D'"}], "mark": {"type": "text", "align": "left", "baseline": "alphabetic", "dx": -21, "fontSize": 17}, "encoding": {"x": {"field": "cdr", "type": "nominal", "sort": ["CDR: 0.5","CDR: 1","CDR: 2"], "title": null}, "y": {"datum": 2.15, "title": "MINT"}, "text": {"field": "ptext"}}}
 ]},
{"title": {"text": "E", "dx": -53, "offset": 29}, "width": 389, "height": 261,
 "data": {"name": "box"}, "transform": [{"filter": "datum.panel == 'E'"}],
 "layer": [
  {"data": {"name": "cloud"}, "transform": [{"filter": "datum.panel == 'E'"}], "mark": {"type": "bar"}, "encoding": {"x": {"field": "cdr", "type": "nominal", "sort": ["CDR: 0.5","CDR: 1","CDR: 2"], "scale": {"paddingInner": 0.241, "paddingOuter": 0}, "title": null}, "xOffset": {"field": "race", "type": "nominal", "sort": ["Black","White"], "scale": {"paddingInner": 0.4565, "paddingOuter": 0.391}}, "y": {"field": "lo", "type": "quantitative", "scale": {"domain": [-2, 2], "nice": false}, "axis": {"values": [-2,-1,0,1,2], "labelExpr": "'' + datum.value"}, "title": "Digit Span Backwards"}, "y2": {"field": "hi"}, "color": {"field": "race", "type": "nominal"}, "opacity": {"field": "dens", "type": "quantitative", "scale": {"domain": [0, 1], "range": [0, 0.7]}, "legend": null}}},
  {"mark": {"type": "rule", "strokeWidth": 4}, "encoding": {"x": {"field": "cdr", "type": "nominal", "sort": ["CDR: 0.5","CDR: 1","CDR: 2"], "title": null}, "xOffset": {"field": "race", "type": "nominal", "sort": ["Black","White"]}, "y": {"field": "min", "type": "quantitative", "title": "Digit Span Backwards"}, "y2": {"field": "max"}, "color": {"field": "race", "type": "nominal"}}},
  {"mark": {"type": "tick", "size": 17, "thickness": 4}, "encoding": {"x": {"field": "cdr", "type": "nominal", "sort": ["CDR: 0.5","CDR: 1","CDR: 2"], "title": null}, "xOffset": {"field": "race", "type": "nominal", "sort": ["Black","White"]}, "y": {"field": "min", "type": "quantitative", "title": "Digit Span Backwards"}, "color": {"field": "race", "type": "nominal"}}},
  {"mark": {"type": "tick", "size": 17, "thickness": 4}, "encoding": {"x": {"field": "cdr", "type": "nominal", "sort": ["CDR: 0.5","CDR: 1","CDR: 2"], "title": null}, "xOffset": {"field": "race", "type": "nominal", "sort": ["Black","White"]}, "y": {"field": "max", "type": "quantitative", "title": "Digit Span Backwards"}, "color": {"field": "race", "type": "nominal"}}},
  {"mark": {"type": "bar", "filled": false, "strokeWidth": 4}, "encoding": {"x": {"field": "cdr", "type": "nominal", "sort": ["CDR: 0.5","CDR: 1","CDR: 2"], "title": null}, "xOffset": {"field": "race", "type": "nominal", "sort": ["Black","White"]}, "y": {"field": "q1", "type": "quantitative", "title": "Digit Span Backwards"}, "y2": {"field": "q3"}, "color": {"field": "race", "type": "nominal"}}},
  {"mark": {"type": "tick", "size": 25, "thickness": 4}, "encoding": {"x": {"field": "cdr", "type": "nominal", "sort": ["CDR: 0.5","CDR: 1","CDR: 2"], "title": null}, "xOffset": {"field": "race", "type": "nominal", "sort": ["Black","White"]}, "y": {"field": "median", "type": "quantitative", "title": "Digit Span Backwards"}, "color": {"field": "race", "type": "nominal"}}},
  {"mark": {"type": "rule", "color": "black", "strokeWidth": 2, "strokeDash": [2, 3.5]}, "encoding": {"y": {"datum": 0, "title": "Digit Span Backwards"}}},
  {"mark": {"type": "rule", "color": "black", "strokeWidth": 2}, "encoding": {"x": {"field": "cdr", "type": "nominal", "sort": ["CDR: 0.5","CDR: 1","CDR: 2"], "title": null}, "xOffset": {"field": "race", "type": "nominal", "sort": ["Black","White"]}, "y": {"datum": 1.85, "title": "Digit Span Backwards"}, "y2": {"datum": 2.05}}},
  {"data": {"name": "pv"}, "transform": [{"filter": "datum.panel == 'E'"}], "mark": {"type": "tick", "size": 48, "thickness": 2, "color": "black"}, "encoding": {"x": {"field": "cdr", "type": "nominal", "sort": ["CDR: 0.5","CDR: 1","CDR: 2"], "title": null}, "y": {"datum": 2.05, "title": "Digit Span Backwards"}}},
  {"data": {"name": "pv"}, "transform": [{"filter": "datum.panel == 'E'"}], "mark": {"type": "text", "text": "p", "fontStyle": "italic", "align": "right", "baseline": "alphabetic", "dx": -24, "fontSize": 17}, "encoding": {"x": {"field": "cdr", "type": "nominal", "sort": ["CDR: 0.5","CDR: 1","CDR: 2"], "title": null}, "y": {"datum": 2.15, "title": "Digit Span Backwards"}}},
  {"data": {"name": "pv"}, "transform": [{"filter": "datum.panel == 'E'"}], "mark": {"type": "text", "align": "left", "baseline": "alphabetic", "dx": -21, "fontSize": 17}, "encoding": {"x": {"field": "cdr", "type": "nominal", "sort": ["CDR: 0.5","CDR: 1","CDR: 2"], "title": null}, "y": {"datum": 2.15, "title": "Digit Span Backwards"}, "text": {"field": "ptext"}}}
 ]},
{"title": {"text": "F", "dx": -60, "offset": 13}, "width": 389, "height": 261,
 "data": {"name": "box"}, "transform": [{"filter": "datum.panel == 'F'"}],
 "layer": [
  {"data": {"name": "lv"}, "transform": [{"filter": "datum.panel == 'F'"}], "mark": {"type": "tick", "size": 17, "thickness": 2, "opacity": 0.55}, "encoding": {"x": {"field": "cdr", "type": "nominal", "sort": ["CDR: 0.5","CDR: 1","CDR: 2","CDR: 3"], "scale": {"paddingInner": 0.233, "paddingOuter": 0}, "title": null}, "xOffset": {"field": "race", "type": "nominal", "sort": ["Black","White"], "scale": {"paddingInner": 0.5, "paddingOuter": 0.412}}, "y": {"field": "v", "type": "quantitative", "scale": {"domain": [-2, 2], "nice": false}, "axis": {"values": [-2,-1,0,1,2], "labelExpr": "'' + datum.value"}, "title": "NPIQ Total Severity"}, "color": {"field": "race", "type": "nominal"}}},
  {"mark": {"type": "rule", "strokeWidth": 4}, "encoding": {"x": {"field": "cdr", "type": "nominal", "sort": ["CDR: 0.5","CDR: 1","CDR: 2","CDR: 3"], "title": null}, "xOffset": {"field": "race", "type": "nominal", "sort": ["Black","White"]}, "y": {"field": "min", "type": "quantitative", "title": "NPIQ Total Severity"}, "y2": {"field": "max"}, "color": {"field": "race", "type": "nominal"}}},
  {"mark": {"type": "tick", "size": 17, "thickness": 4}, "encoding": {"x": {"field": "cdr", "type": "nominal", "sort": ["CDR: 0.5","CDR: 1","CDR: 2","CDR: 3"], "title": null}, "xOffset": {"field": "race", "type": "nominal", "sort": ["Black","White"]}, "y": {"field": "min", "type": "quantitative", "title": "NPIQ Total Severity"}, "color": {"field": "race", "type": "nominal"}}},
  {"mark": {"type": "tick", "size": 17, "thickness": 4}, "encoding": {"x": {"field": "cdr", "type": "nominal", "sort": ["CDR: 0.5","CDR: 1","CDR: 2","CDR: 3"], "title": null}, "xOffset": {"field": "race", "type": "nominal", "sort": ["Black","White"]}, "y": {"field": "max", "type": "quantitative", "title": "NPIQ Total Severity"}, "color": {"field": "race", "type": "nominal"}}},
  {"mark": {"type": "bar", "filled": false, "strokeWidth": 4}, "encoding": {"x": {"field": "cdr", "type": "nominal", "sort": ["CDR: 0.5","CDR: 1","CDR: 2","CDR: 3"], "title": null}, "xOffset": {"field": "race", "type": "nominal", "sort": ["Black","White"]}, "y": {"field": "q1", "type": "quantitative", "title": "NPIQ Total Severity"}, "y2": {"field": "q3"}, "color": {"field": "race", "type": "nominal"}}},
  {"mark": {"type": "tick", "size": 17, "thickness": 4}, "encoding": {"x": {"field": "cdr", "type": "nominal", "sort": ["CDR: 0.5","CDR: 1","CDR: 2","CDR: 3"], "title": null}, "xOffset": {"field": "race", "type": "nominal", "sort": ["Black","White"]}, "y": {"field": "median", "type": "quantitative", "title": "NPIQ Total Severity"}, "color": {"field": "race", "type": "nominal"}}},
  {"mark": {"type": "rule", "color": "black", "strokeWidth": 2, "strokeDash": [2, 3.5]}, "encoding": {"y": {"datum": 0, "title": "NPIQ Total Severity"}}},
  {"mark": {"type": "rule", "color": "black", "strokeWidth": 2}, "encoding": {"x": {"field": "cdr", "type": "nominal", "sort": ["CDR: 0.5","CDR: 1","CDR: 2","CDR: 3"], "title": null}, "xOffset": {"field": "race", "type": "nominal", "sort": ["Black","White"]}, "y": {"datum": 1.85, "title": "NPIQ Total Severity"}, "y2": {"datum": 2.05}}},
  {"data": {"name": "pv"}, "transform": [{"filter": "datum.panel == 'F'"}], "mark": {"type": "tick", "size": 36, "thickness": 2, "color": "black"}, "encoding": {"x": {"field": "cdr", "type": "nominal", "sort": ["CDR: 0.5","CDR: 1","CDR: 2","CDR: 3"], "title": null}, "y": {"datum": 2.05, "title": "NPIQ Total Severity"}}},
  {"data": {"name": "pv"}, "transform": [{"filter": "datum.panel == 'F'"}], "mark": {"type": "text", "text": "p", "fontStyle": "italic", "align": "right", "baseline": "alphabetic", "dx": -24, "fontSize": 17}, "encoding": {"x": {"field": "cdr", "type": "nominal", "sort": ["CDR: 0.5","CDR: 1","CDR: 2","CDR: 3"], "title": null}, "y": {"datum": 2.15, "title": "NPIQ Total Severity"}}},
  {"data": {"name": "pv"}, "transform": [{"filter": "datum.panel == 'F'"}], "mark": {"type": "text", "align": "left", "baseline": "alphabetic", "dx": -21, "fontSize": 17}, "encoding": {"x": {"field": "cdr", "type": "nominal", "sort": ["CDR: 0.5","CDR: 1","CDR: 2","CDR: 3"], "title": null}, "y": {"datum": 2.15, "title": "NPIQ Total Severity"}, "text": {"field": "ptext"}}}
 ]}
],
"config": {
 "view": {"stroke": null},
 "font": "Liberation Sans",
 "title": {"fontSize": 20, "fontWeight": "bold", "anchor": "start", "frame": "group", "baseline": "alphabetic", "color": "black", "font": "Liberation Sans"},
 "text": {"font": "Liberation Sans", "color": "black"},
 "axis": {"domainColor": "black", "tickColor": "black", "labelColor": "black", "titleColor": "black", "grid": false, "labelFont": "Liberation Sans", "titleFont": "Liberation Sans"},
 "axisY": {"domainWidth": 3, "tickWidth": 2.5, "tickSize": 7, "labelFontSize": 17, "labelFontWeight": "bold", "labelPadding": 2, "titleFontSize": 20, "titleFontWeight": "normal", "titlePadding": 6},
 "axisX": {"domainWidth": 3, "ticks": false, "labelFontSize": 19, "labelPadding": 8, "labelAngle": 0},
 "legend": {"labelFont": "Liberation Sans"}
}
}
